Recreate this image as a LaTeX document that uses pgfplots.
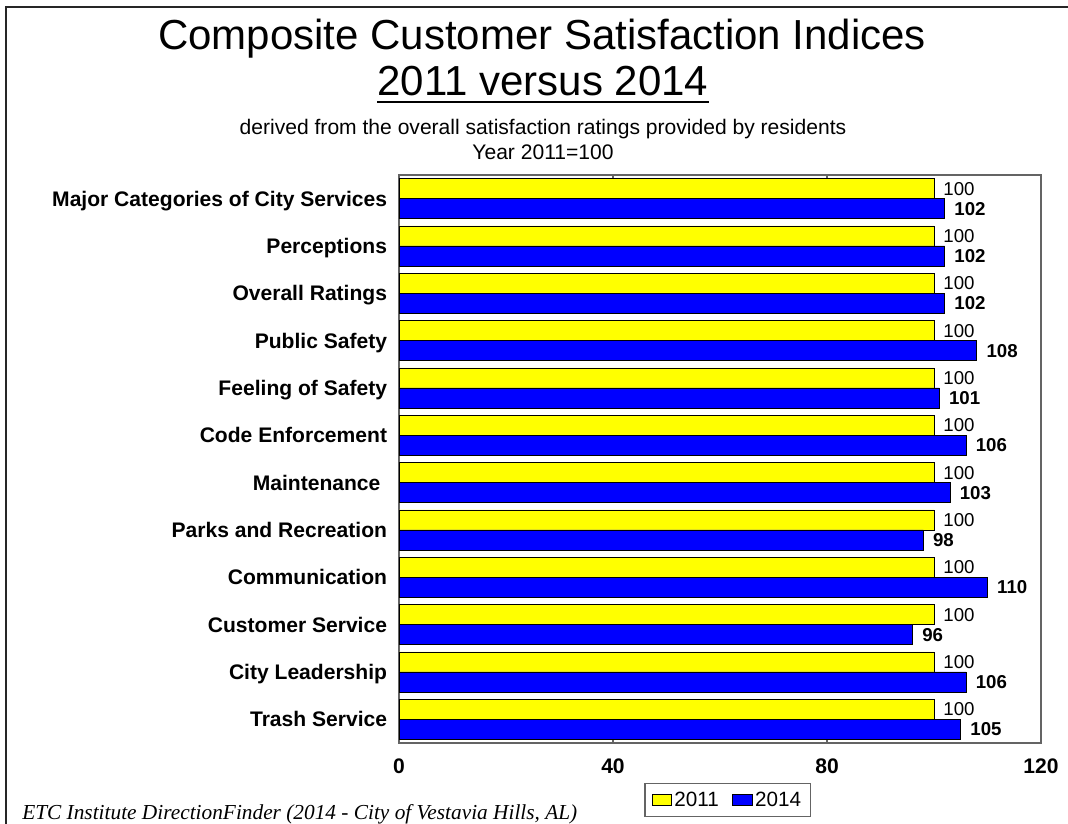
\documentclass[border=0pt]{standalone}
\usepackage{fontspec}
\setmainfont{Liberation Sans}
\newfontfamily\serifit{Liberation Serif}
\usepackage{pgfplots}
\usepackage{pgfplotstable}
\pgfplotsset{compat=1.18}
\definecolor{axgray}{RGB}{100,100,100}
\definecolor{barY}{RGB}{255,255,0}
\definecolor{barB}{RGB}{0,0,255}

\pgfplotstableread{
y v11 v14
11 100 102
10 100 102
9 100 102
8 100 108
7 100 101
6 100 106
5 100 103
4 100 98
3 100 110
2 100 96
1 100 106
0 100 105
}\datatable

\begin{document}
\begin{tikzpicture}
\path[use as bounding box] (0,0) rectangle (801pt,618pt);
\fill[white] (0,0) rectangle (801pt,618pt);
\draw[line width=1.8pt, black!85] (4.5pt,0) -- (4.5pt,612.75pt) -- (801pt,612.75pt);

\node[anchor=base, inner sep=0pt, font=\fontsize{31.5}{36}\selectfont] at (406.5pt,580.5pt) {Composite Customer Satisfaction Indices};
\node[anchor=base, inner sep=0pt, font=\fontsize{31.5}{36}\selectfont] (t2) at (407.25pt,546pt) {2011 versus 2014};
\draw[line width=2.2pt] (t2.west |- 0,541.5pt) -- (t2.east |- 0,541.5pt);
\node[anchor=base, inner sep=0pt, font=\fontsize{15.8}{18}\selectfont] at (407.25pt,516.75pt) {derived from the overall satisfaction ratings provided by residents};
\node[anchor=base, inner sep=0pt, font=\fontsize{15.8}{18}\selectfont] at (407.25pt,498pt) {Year 2011=100};
\node[anchor=base west, inner sep=0pt, font=\serifit\itshape\fontsize{16}{18}\selectfont] at (16.5pt,3.5pt) {ETC Institute DirectionFinder (2014 - City of Vestavia Hills, AL)};

\begin{axis}[
  at={(299.25pt,60.75pt)}, anchor=south west,
  width=481.5pt, height=426pt, scale only axis,
  xbar, bar width=15pt,
  xmin=0, xmax=120, ymin=-0.5, ymax=11.5,
  xtick={0,40,80,120},
  ytick={0,...,11},
  yticklabels={Trash Service,City Leadership,Customer Service,Communication,Parks and Recreation,Maintenance\kern5pt,Code Enforcement,Feeling of Safety,Public Safety,Overall Ratings,Perceptions,Major Categories of City Services},
  axis line style={axgray, line width=1.1pt},
  tick style={axgray, line width=0.9pt},
  major tick length=5pt,
  ytick style={draw=none},
  /pgf/number format/assume math mode=true,
  xticklabel style={font=\fontsize{15.8}{18}\selectfont\bfseries, inner sep=0pt, yshift=-12pt},
  yticklabel style={font=\fontsize{15.8}{18}\selectfont\bfseries, anchor=base east, inner sep=0pt, xshift=-3.75pt, yshift=-5.6pt},
  legend style={at={(0.512,-0.1004)}, anchor=center, draw=axgray, line width=1pt, legend columns=2,
    font=\fontsize{15.5}{18}\selectfont, inner xsep=5pt, inner ysep=4pt,
    /tikz/every even column/.append style={column sep=8pt}},
  legend image code/.code={\draw[#1, line width=0.6pt] (0pt,-4.2pt) rectangle (14.5pt,4.2pt);},
]
\addplot[fill=barY, draw=black, line width=0.6pt, bar shift=7.5pt,
  nodes near coords,
  every node near coord/.append style={font=\fontsize{14}{16}\selectfont, anchor=west, inner sep=0pt, xshift=6.75pt, black}]
  table[x=v11, y=y] {\datatable};
\addplot[fill=barB, draw=black, line width=0.6pt, bar shift=-7.5pt,
  nodes near coords,
  every node near coord/.append style={font=\fontsize{14}{16}\selectfont\bfseries, anchor=west, inner sep=0pt, xshift=7pt, black}]
  table[x=v14, y=y] {\datatable};
\legend{2011,2014}
\end{axis}
\end{tikzpicture}
\end{document}
